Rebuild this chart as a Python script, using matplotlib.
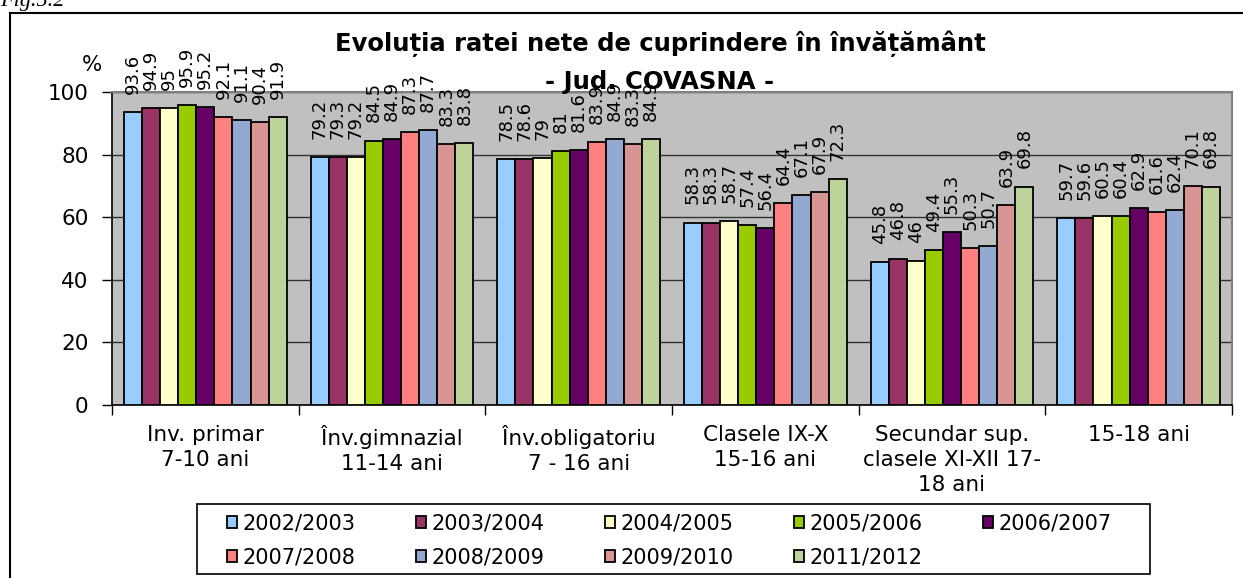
import matplotlib.pyplot as plt
import numpy as np
from matplotlib.lines import Line2D
from matplotlib.patches import Patch, Rectangle

plt.rcParams["font.family"] = ["DejaVu Sans"]

W, H = 1243, 578

categories = [
    "Inv. primar\n7-10 ani",
    "Înv.gimnazial\n11-14 ani",
    "Înv.obligatoriu\n7 - 16 ani",
    "Clasele IX-X\n15-16 ani",
    "Secundar sup.\nclasele XI-XII 17-\n18 ani",
    "15-18 ani",
]
years = [
    "2002/2003", "2003/2004", "2004/2005", "2005/2006", "2006/2007",
    "2007/2008", "2008/2009", "2009/2010", "2011/2012",
]
# one list per school year, one value per category
v_2002 = [93.6, 79.2, 78.5, 58.3, 45.8, 59.7]
v_2003 = [94.9, 79.3, 78.6, 58.3, 46.8, 59.6]
v_2004 = [95.0, 79.2, 79.0, 58.7, 46.0, 60.5]
v_2005 = [95.9, 84.5, 81.0, 57.4, 49.4, 60.4]
v_2006 = [95.2, 84.9, 81.6, 56.4, 55.3, 62.9]
v_2007 = [92.1, 87.3, 83.9, 64.4, 50.3, 61.6]
v_2008 = [91.1, 87.7, 84.9, 67.1, 50.7, 62.4]
v_2009 = [90.4, 83.3, 83.3, 67.9, 63.9, 70.1]
v_2011 = [91.9, 83.8, 84.9, 72.3, 69.8, 69.8]
series = [v_2002, v_2003, v_2004, v_2005, v_2006, v_2007, v_2008, v_2009, v_2011]

colors = ["#99CCFF", "#993366", "#FFFFCC", "#99CC00", "#660066",
          "#FF8080", "#93A9D2", "#D79593", "#BDD39B"]

fig = plt.figure(figsize=(W / 100, H / 100), dpi=100)
ax = fig.add_axes([112 / W, 1 - 405 / H, 1120 / W, 313 / H])
ax.set_facecolor("#C0C0C0")

n = len(series)
bw = 0.873 / n
x = np.arange(len(categories))
for i, (vals, col) in enumerate(zip(series, colors)):
    pos = x + (i - (n - 1) / 2) * bw
    ax.bar(pos, vals, width=bw, color=col, edgecolor="black",
           linewidth=1.3, zorder=3)
    for px, v in zip(pos, vals):
        ax.annotate(f"{v:g}", xy=(px, v), xytext=(0, 13),
                    textcoords="offset points", rotation=90,
                    ha="center", va="bottom", fontsize=13,
                    annotation_clip=False, zorder=4)

ax.set_xlim(-0.5, len(categories) - 0.5)
ax.set_ylim(0, 100)
ax.set_yticks(range(0, 101, 20))
ax.tick_params(axis="y", labelsize=15.5, length=7, width=1, pad=10,
               direction="out")
ax.yaxis.grid(True, color="#333333", linewidth=1, zorder=0)

ax.set_xticks(np.arange(len(categories) + 1) - 0.5)
ax.set_xticklabels([])
ax.tick_params(axis="x", length=7, width=1, direction="out")
for xi, lab in zip(x, categories):
    ax.text(xi, -6.5, lab, ha="center", va="top", fontsize=15.5,
            linespacing=1.3, clip_on=False)

for s in ["top", "right"]:
    ax.spines[s].set_color("#808080")
    ax.spines[s].set_linewidth(1.5)
ax.spines["left"].set_linewidth(1.2)
ax.spines["bottom"].set_linewidth(1.2)

fig.text(660 / W, 1 - 51 / H,
         "Evoluția ratei nete de cuprindere în învățământ",
         ha="center", va="baseline", fontsize=17.5, fontweight="bold")
fig.text(660 / W, 1 - 89 / H, "- Jud. COVASNA -",
         ha="center", va="baseline", fontsize=17.5, fontweight="bold")
fig.text(92 / W, 1 - 65 / H, "%", ha="center", va="center", fontsize=15.5)
fig.text(0, 1 - 6 / H, "Fig.5.2", ha="left", va="baseline", fontsize=16,
         family="Liberation Serif", style="italic")

# outer frame (only top and left edges are inside the picture)
fig.add_artist(Line2D([10 / W, 1.0], [1 - 13 / H] * 2, color="black",
                      linewidth=1.5, transform=fig.transFigure))
fig.add_artist(Line2D([10 / W] * 2, [0, 1 - 13 / H], color="black",
                      linewidth=1.5, transform=fig.transFigure))

# legend: row-major order in 5 columns
fig.add_artist(Rectangle((197 / W, 1 - 574 / H), 953 / W, 70 / H,
                         transform=fig.transFigure, facecolor="white",
                         edgecolor="black", linewidth=1.2))
order = [0, 5, 1, 6, 2, 7, 3, 8, 4]
handles = [Patch(facecolor=colors[k], edgecolor="black", linewidth=1.3)
           for k in order]
labels = [years[k] for k in order]
fig.legend(handles, labels, loc="upper left",
           bbox_to_anchor=(212 / W, 1 - 499 / H),
           ncol=5, fontsize=15, frameon=False,
           handlelength=0.5, handleheight=0.5,
           handletextpad=0.25, columnspacing=2.9, borderpad=0.2,
           labelspacing=0.65)

fig.savefig("out.png", dpi=100, facecolor="white")
